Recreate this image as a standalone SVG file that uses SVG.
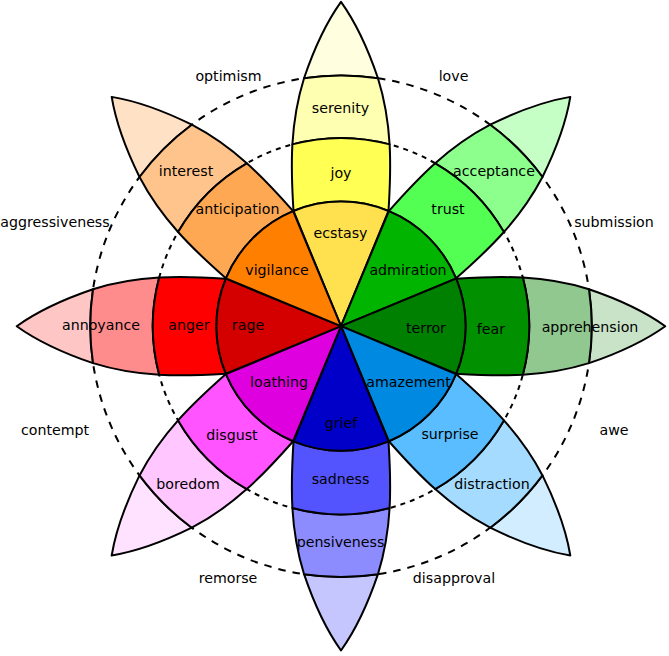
<svg xmlns="http://www.w3.org/2000/svg" width="669" height="656" viewBox="0 0 669 656">
<style>
text{font-family:"DejaVu Sans",sans-serif;font-size:14.2px;text-anchor:middle;fill:#000}
.s{stroke:#000;stroke-width:2;stroke-linejoin:round}
.d{fill:none;stroke:#000;stroke-width:2}
.d1{stroke-dasharray:5 5}
.d2{stroke-dasharray:7.5 7}
</style>
<defs>
<path id="w" class="s" d="M0 0L-47.5 -115.2A124.6 124.6 0 0 1 47.5 -115.2Z"/>
<path id="b1" class="s" d="M-47.5 -115.2C-48.96 -138.2 -49.84 -160.07 -48.6 -181.8A188.2 188.2 0 0 1 48.6 -181.8C49.84 -160.07 48.96 -138.2 47.5 -115.2A124.6 124.6 0 0 0 -47.5 -115.2Z"/>
<path id="b2" class="s" d="M-48.6 -181.8C-47.37 -203.66 -44.01 -225.38 -36.96 -247.98A250.7 250.7 0 0 1 36.96 -247.98C44.01 -225.38 47.37 -203.66 48.6 -181.8A188.2 188.2 0 0 0 -48.6 -181.8Z"/>
<path id="b3" class="s" d="M-36.96 -247.98C-28.8 -272 -17.8 -299.5 0 -324.3C17.8 -299.5 28.8 -272 36.96 -247.98A250.7 250.7 0 0 0 -36.96 -247.98Z"/>
</defs>
<rect width="669" height="656" fill="#fff"/>
<g id="connectors">
<circle class="d d1" cx="341" cy="326.2" r="188.2"/>
<circle class="d d2" cx="341" cy="326.2" r="250.7"/>
</g>
<g id="petal-yellow" transform="translate(341 326.2)">
<use href="#b3" fill="#ffffe0"/>
<use href="#b2" fill="#ffffb1"/>
<use href="#b1" fill="#ffff54"/>
</g>
<g id="petal-green" transform="translate(341 326.2) rotate(45)">
<use href="#b3" fill="#c6ffc6"/>
<use href="#b2" fill="#8cff8c"/>
<use href="#b1" fill="#54ff54"/>
</g>
<g id="petal-darkgreen" transform="translate(341 326.2) rotate(90)">
<use href="#b3" fill="#c8e3c8"/>
<use href="#b2" fill="#90c890"/>
<use href="#b1" fill="#009000"/>
</g>
<g id="petal-blue" transform="translate(341 326.2) rotate(135)">
<use href="#b3" fill="#d2edff"/>
<use href="#b2" fill="#a5dbff"/>
<use href="#b1" fill="#59bdff"/>
</g>
<g id="petal-darkblue" transform="translate(341 326.2) rotate(180)">
<use href="#b3" fill="#c6c6ff"/>
<use href="#b2" fill="#8c8cff"/>
<use href="#b1" fill="#5454ff"/>
</g>
<g id="petal-violet" transform="translate(341 326.2) rotate(225)">
<use href="#b3" fill="#ffe2ff"/>
<use href="#b2" fill="#ffc6ff"/>
<use href="#b1" fill="#ff54ff"/>
</g>
<g id="petal-red" transform="translate(341 326.2) rotate(270)">
<use href="#b3" fill="#ffc6c6"/>
<use href="#b2" fill="#ff8c8c"/>
<use href="#b1" fill="#ff0000"/>
</g>
<g id="petal-orange" transform="translate(341 326.2) rotate(315)">
<use href="#b3" fill="#ffe1c6"/>
<use href="#b2" fill="#ffc48c"/>
<use href="#b1" fill="#ffa854"/>
</g>
<g id="ecstasy-wedge" transform="translate(341 326.2)"><use href="#w" fill="#ffe14f"/></g>
<g id="admiration-wedge" transform="translate(341 326.2) rotate(45)"><use href="#w" fill="#00b400"/></g>
<g id="terror-wedge" transform="translate(341 326.2) rotate(90)"><use href="#w" fill="#008000"/></g>
<g id="amazement-wedge" transform="translate(341 326.2) rotate(135)"><use href="#w" fill="#0089e0"/></g>
<g id="grief-wedge" transform="translate(341 326.2) rotate(180)"><use href="#w" fill="#0000c8"/></g>
<g id="loathing-wedge" transform="translate(341 326.2) rotate(225)"><use href="#w" fill="#de00de"/></g>
<g id="rage-wedge" transform="translate(341 326.2) rotate(270)"><use href="#w" fill="#d40000"/></g>
<g id="vigilance-wedge" transform="translate(341 326.2) rotate(315)"><use href="#w" fill="#ff7f00"/></g>
<g id="labels">
<text x="228.5" y="81">optimism</text>
<text x="453.5" y="81">love</text>
<text x="55" y="227">aggressiveness</text>
<text x="614" y="227">submission</text>
<text x="55" y="435">contempt</text>
<text x="614" y="435">awe</text>
<text x="228" y="583">remorse</text>
<text x="454" y="583">disapproval</text>
<text x="340.5" y="113">serenity</text>
<text x="341" y="178">joy</text>
<text x="340.5" y="238">ecstasy</text>
<text x="186" y="176">interest</text>
<text x="494" y="176">acceptance</text>
<text x="237.5" y="214">anticipation</text>
<text x="448" y="214">trust</text>
<text x="277" y="275">vigilance</text>
<text x="408" y="275">admiration</text>
<text x="101" y="330">annoyance</text>
<text x="189" y="330">anger</text>
<text x="248" y="330">rage</text>
<text x="426" y="333">terror</text>
<text x="491" y="334">fear</text>
<text x="590" y="332">apprehension</text>
<text x="279" y="387">loathing</text>
<text x="408.5" y="387">amazement</text>
<text x="232" y="440">disgust</text>
<text x="450" y="439">surprise</text>
<text x="188" y="489">boredom</text>
<text x="492" y="489">distraction</text>
<text x="341" y="428">grief</text>
<text x="340.5" y="484">sadness</text>
<text x="340.5" y="547">pensiveness</text>
</g>
</svg>
